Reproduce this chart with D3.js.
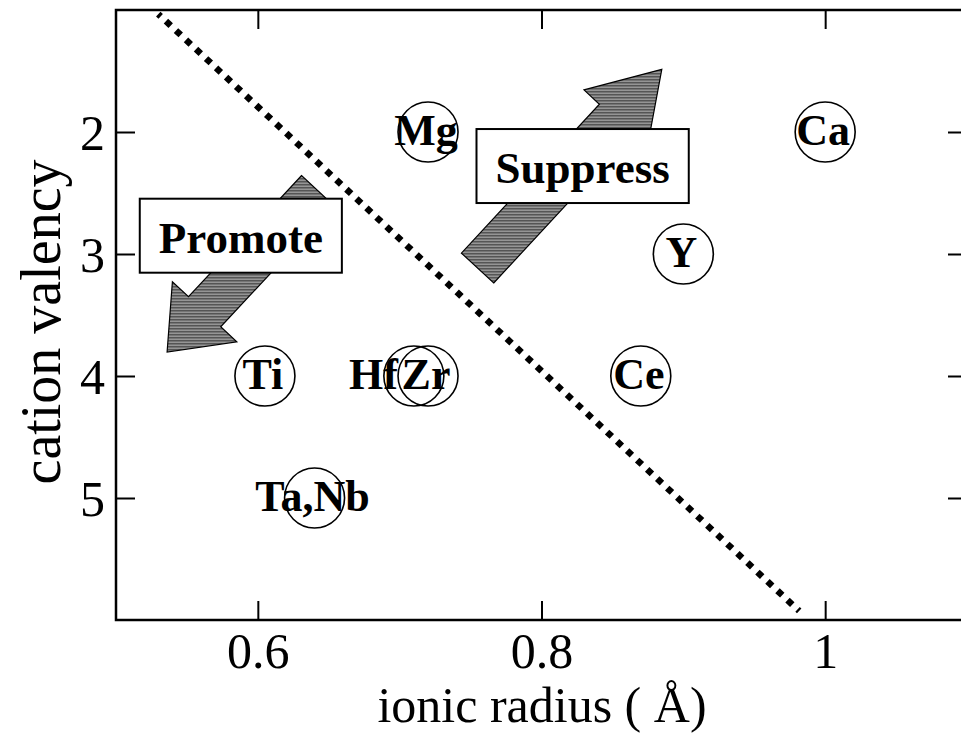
<!DOCTYPE html>
<html>
<head>
<meta charset="utf-8">
<script src="https://cdn.jsdelivr.net/npm/d3@7"></script>
<style>
  body { margin: 0; background: #fff; }
  svg { display: block; }
</style>
</head>
<body>
<div id="chart-area"></div>
<script>
// element labels and their values (ionic radius in Å, cation valency)
var elements = ["Ti", "Hf", "Zr", "Ta,Nb", "Mg", "Ca", "Y", "Ce"];
var radii    = [0.605, 0.71, 0.72, 0.64, 0.72, 1.00, 0.90, 0.87];
var valency  = [4, 4, 4, 5, 2, 2, 3, 4];

var xTicks = [0.6, 0.8, 1];
var yTicks = [2, 3, 4, 5];

// dotted boundary line (ionic radius, valency)
var boundaryX = [0.5298, 0.9817];
var boundaryY = [1.033, 5.926];

// arrows: tail -> tip (ionic radius, valency)
var arrowNames = ["Promote", "Suppress"];
var arrowTailX = [0.6422, 0.7549];
var arrowTailY = [2.480, 3.115];
var arrowTipX  = [0.5360, 0.8848];
var arrowTipY  = [3.803, 1.486];
// label boxes centres
var boxX = [0.588, 0.829];
var boxY = [2.85, 2.279];

var svgWidth = 961, svgHeight = 747;
var margin = { top: 10, left: 116 };
var width = 851, height = 610;

var svg = d3.select("#chart-area")
            .append("svg")
            .attr("width", svgWidth)
            .attr("height", svgHeight);

var defs = svg.append("defs");
var pat = defs.append("pattern")
              .attr("id", "stripes")
              .attr("patternUnits", "userSpaceOnUse")
              .attr("width", 4)
              .attr("height", 3);
pat.append("rect").attr("width", 4).attr("height", 3).attr("fill", "#959595");
pat.append("rect").attr("width", 4).attr("height", 1.5).attr("fill", "#555");

var g = svg.append("g")
           .attr("transform", "translate(" + margin.left + "," + margin.top + ")");

var x = d3.scaleLinear().domain([0.5, 1.1]).range([0, width]);
var y = d3.scaleLinear().domain([1, 6]).range([0, height]);

var serif = "'Liberation Serif', 'Times New Roman', serif";

// axes with inward ticks on all four sides
var tickLen = 19;
var fmt = d3.format("~g");

var xAxisB = g.append("g")
              .attr("transform", "translate(0," + height + ")")
              .call(d3.axisBottom(x).tickValues(xTicks).tickSizeInner(-tickLen).tickSizeOuter(0).tickFormat(fmt));
xAxisB.selectAll("text")
      .attr("dy", null)
      .attr("y", 48)
      .attr("font-size", "50px");

g.append("g")
 .call(d3.axisTop(x).tickValues(xTicks).tickSizeInner(-tickLen).tickSizeOuter(0).tickFormat(""));

var yAxisL = g.append("g")
              .call(d3.axisLeft(y).tickValues(yTicks).tickSizeInner(-tickLen).tickSizeOuter(0).tickFormat(fmt));
yAxisL.selectAll("text")
      .attr("x", -11)
      .attr("dy", "0.34em")
      .attr("font-size", "50px");

g.append("g")
 .attr("transform", "translate(" + width + ",0)")
 .call(d3.axisRight(y).tickValues(yTicks).tickSizeInner(-tickLen).tickSizeOuter(0).tickFormat(""));

g.selectAll(".domain").remove();
g.selectAll(".tick line").attr("stroke", "#000").attr("stroke-width", 2);
g.selectAll(".tick text").attr("font-family", serif).attr("fill", "#000");

g.append("rect")
 .attr("width", width)
 .attr("height", height)
 .attr("fill", "none")
 .attr("stroke", "#000")
 .attr("stroke-width", 2.5);

// axis titles
svg.append("text")
   .attr("x", 542)
   .attr("y", 722)
   .attr("text-anchor", "middle")
   .attr("font-family", serif)
   .attr("font-size", "50px")
   .text("ionic radius ( Å)");

svg.append("text")
   .attr("transform", "translate(60,322) rotate(-90)")
   .attr("text-anchor", "middle")
   .attr("font-family", serif)
   .attr("font-size", "56px")
   .text("cation valency");

// dotted boundary
g.append("line")
 .attr("x1", x(boundaryX[0])).attr("y1", y(boundaryY[0]))
 .attr("x2", x(boundaryX[1])).attr("y2", y(boundaryY[1]))
 .attr("stroke", "#000")
 .attr("stroke-width", 6.5)
 .attr("stroke-dasharray", "6.5 7.2")
 .attr("stroke-dashoffset", 3.2);

// arrows
var arrowSpec = [
    { shaft: 44, headW: 88, headL: 55 },
    { shaft: 44, headW: 86, headL: 68 }
];

function arrowPath(tx, ty, px, py, s) {
    var dx = px - tx, dy = py - ty;
    var L = Math.sqrt(dx * dx + dy * dy);
    var ux = dx / L, uy = dy / L;
    var nx = -uy, ny = ux;
    var bx = tx + ux * (L - s.headL), by = ty + uy * (L - s.headL);
    var w = s.shaft / 2, hw = s.headW / 2;
    var pts = [
        [tx + nx * w, ty + ny * w],
        [bx + nx * w, by + ny * w],
        [bx + nx * hw, by + ny * hw],
        [px, py],
        [bx - nx * hw, by - ny * hw],
        [bx - nx * w, by - ny * w],
        [tx - nx * w, ty - ny * w]
    ];
    return "M" + pts.map((p) => p[0].toFixed(1) + "," + p[1].toFixed(1)).join("L") + "Z";
}

arrowNames.forEach(function(name, i) {
    g.append("path")
     .attr("d", arrowPath(x(arrowTailX[i]), y(arrowTailY[i]), x(arrowTipX[i]), y(arrowTipY[i]), arrowSpec[i]))
     .attr("fill", "url(#stripes)")
     .attr("stroke", "#000")
     .attr("stroke-width", 1.2);
});

// label boxes
arrowNames.forEach(function(name, i) {
    var bg = g.append("g")
              .attr("transform", "translate(" + x(boxX[i]) + "," + y(boxY[i]) + ")");
    var rect = bg.append("rect").attr("fill", "#fff").attr("stroke", "#000").attr("stroke-width", 2);
    var t = bg.append("text")
              .attr("text-anchor", "middle")
              .attr("y", 17)
              .attr("font-family", serif)
              .attr("font-weight", "bold")
              .attr("font-size", "45px")
              .text(name);
    var tw = t.node().getComputedTextLength();
    var bw = tw + 38, bh = 74;
    rect.attr("x", -bw / 2).attr("y", -bh / 2).attr("width", bw).attr("height", bh);
});

// element points: labels then open circles
var pts = elements.map((e, i) => ({ name: e, r: radii[i], v: valency[i] }));

g.selectAll(".elabel")
 .data(pts)
 .enter()
 .append("text")
 .attr("class", "elabel")
 .attr("x", (d) => d.name === "Hf" ? x(d.r) - 16 : x(d.r) - 2)
 .attr("y", (d) => y(d.v))
 .attr("dy", "0.3em")
 .attr("text-anchor", (d) => d.name === "Hf" ? "end" : "middle")
 .attr("font-family", serif)
 .attr("font-weight", "bold")
 .attr("font-size", "44px")
 .text((d) => d.name);

g.selectAll(".ecircle")
 .data(pts)
 .enter()
 .append("circle")
 .attr("class", "ecircle")
 .attr("cx", (d) => x(d.r))
 .attr("cy", (d) => y(d.v))
 .attr("r", 30)
 .attr("fill", "none")
 .attr("stroke", "#000")
 .attr("stroke-width", 1.6);
</script>
</body>
</html>
